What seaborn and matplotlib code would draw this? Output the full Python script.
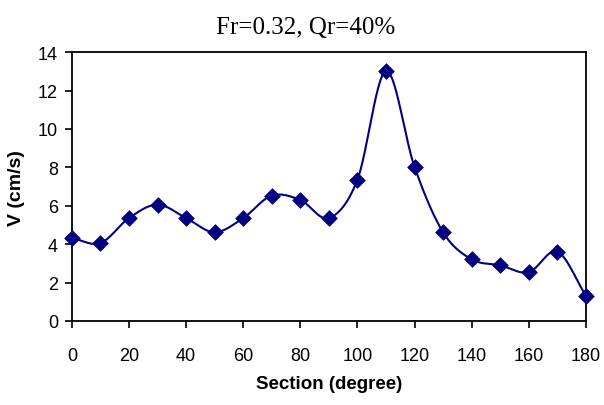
import numpy as np
import pandas as pd
import seaborn as sns
import matplotlib.pyplot as plt

# data
section = [0, 10, 20, 30, 40, 50, 60, 70, 80, 90, 100, 110, 120, 130, 140, 150, 160, 170, 180]
velocity = [4.32, 4.06, 5.36, 6.06, 5.36, 4.62, 5.36, 6.53, 6.30, 5.36, 7.36, 13.02, 8.02, 4.62, 3.21, 2.90, 2.54, 3.61, 1.32]
x_ticks = list(range(0, 181, 20))
y_ticks = list(range(0, 15, 2))

sns.set_style("ticks")
plt.rcParams["font.family"] = ["Liberation Sans", "DejaVu Sans"]
plt.rcParams.update({"text.color": "black", "axes.labelcolor": "black",
                     "xtick.color": "black", "ytick.color": "black"})

df = pd.DataFrame({"section": section, "v": velocity})

# smooth line like excel (catmull-rom through the points)
xs = np.array(section, float)
ys = np.array(velocity, float)
px = np.concatenate([[2 * xs[0] - xs[1]], xs, [2 * xs[-1] - xs[-2]]])
py = np.concatenate([[2 * ys[0] - ys[1]], ys, [2 * ys[-1] - ys[-2]]])
cx, cy = [], []
t = np.linspace(0, 1, 30)
for i in range(1, len(px) - 2):
    for p, out in ((px, cx), (py, cy)):
        p0, p1, p2, p3 = p[i - 1], p[i], p[i + 1], p[i + 2]
        b1 = p1 + (p2 - p0) / 6
        b2 = p2 - (p3 - p1) / 6
        out.extend((1 - t) ** 3 * p1 + 3 * (1 - t) ** 2 * t * b1 + 3 * (1 - t) * t ** 2 * b2 + t ** 3 * p2)
curve = pd.DataFrame({"section": cx, "v": cy})

fig = plt.figure(figsize=(6.04, 4.06), dpi=100)
ax = fig.add_axes([0.119, 0.207, 0.851, 0.662])

sns.lineplot(data=curve, x="section", y="v", color="#000080", linewidth=1.5, sort=False, ax=ax)
sns.scatterplot(data=df, x="section", y="v", marker="D", s=64, color="#000080",
                edgecolor="#000080", linewidth=0.5, zorder=3, clip_on=False, ax=ax)

ax.set_xlim(0, 180)
ax.set_ylim(0, 14)
ax.set_xticks(x_ticks)
ax.set_yticks(y_ticks)
ax.tick_params(direction="out", length=5, width=1.2, labelsize=13, color="black")
ax.tick_params(axis="x", pad=14)
ax.tick_params(axis="y", pad=5)
for s in ax.spines.values():
    s.set_linewidth(1.3)
    s.set_color("black")

ax.set_xlabel("Section (degree)", fontsize=13.5, fontweight="bold", labelpad=8)
ax.set_ylabel("V (cm/s)", fontsize=14, fontweight="bold", labelpad=9)
fig.text(306 / 604, 1 - 28 / 406, "Fr=0.32, Qr=40%", fontsize=18, ha="center", va="center",
         family=["Liberation Serif", "DejaVu Serif"])

fig.savefig("out.png", dpi=100)
